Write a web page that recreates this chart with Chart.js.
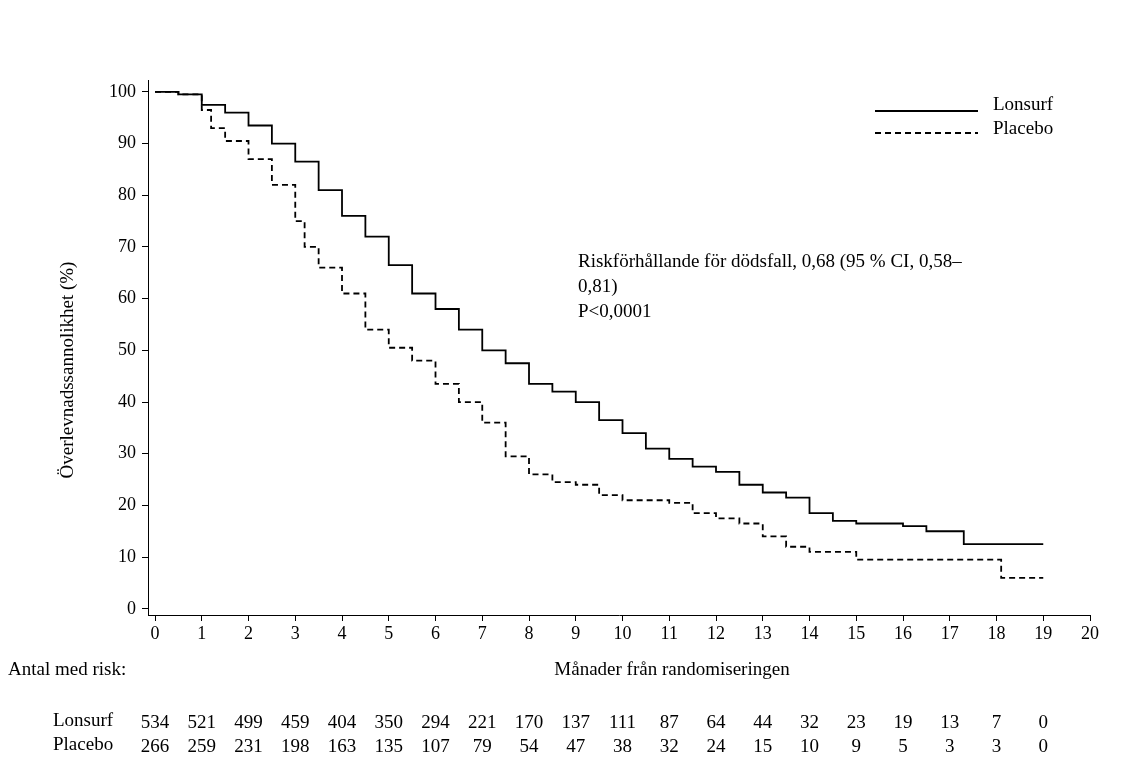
<!DOCTYPE html>
<html>
<head>
<meta charset="utf-8">
<script src="https://cdn.jsdelivr.net/npm/chart.js@4/dist/chart.umd.min.js"></script>
<style>
  body { margin: 0; background: #fff; }
  #wrap { width: 1121px; height: 773px; }
</style>
</head>
<body>
<div id="wrap"><canvas id="km"></canvas></div>
<script>
// Kaplan-Meier data (month, survival %)
const lonsurfMonths = [0, 0.5, 1, 1.5, 2, 2.5, 3, 3.5, 4, 4.5, 5, 5.5, 6, 6.5, 7, 7.5, 8, 8.5, 9, 9.5, 10, 10.5, 11, 11.5, 12, 12.5, 13, 13.5, 14, 14.5, 15, 16, 16.5, 17.3, 19];
const lonsurfValues = [100, 99.5, 97.5, 96, 93.5, 90, 86.5, 81, 76, 72, 66.5, 61, 58, 54, 50, 47.5, 43.5, 42, 40, 36.5, 34, 31, 29, 27.5, 26.5, 24, 22.5, 21.5, 18.5, 17, 16.5, 16, 15, 12.5, 12.5];
const placeboMonths = [0, 0.5, 1, 1.2, 1.5, 2, 2.5, 3, 3.2, 3.5, 4, 4.5, 5, 5.5, 6, 6.5, 7, 7.5, 8, 8.5, 9, 9.5, 10, 11, 11.5, 12, 12.5, 13, 13.5, 14, 15, 18.1, 19];
const placeboValues = [100, 99.5, 96.5, 93, 90.5, 87, 82, 75, 70, 66, 61, 54, 50.5, 48, 43.5, 40, 36, 29.5, 26, 24.5, 24, 22, 21, 20.5, 18.5, 17.5, 16.5, 14, 12, 11, 9.5, 6, 6];

const riskMonths = [0, 1, 2, 3, 4, 5, 6, 7, 8, 9, 10, 11, 12, 13, 14, 15, 16, 17, 18, 19];
const riskLonsurf = [534, 521, 499, 459, 404, 350, 294, 221, 170, 137, 111, 87, 64, 44, 32, 23, 19, 13, 7, 0];
const riskPlacebo = [266, 259, 231, 198, 163, 135, 107, 79, 54, 47, 38, 32, 24, 15, 10, 9, 5, 3, 3, 0];

const FONT = '"Liberation Serif", "Times New Roman", serif';

function toPoints(xs, ys) {
    return xs.map((x, i) => ({ x: x, y: ys[i] }));
}

// Texts, legend and risk table
const extras = {
    id: 'extras',
    afterDraw(chart) {
        const ctx = chart.ctx;
        const xs = chart.scales.x;
        ctx.save();
        ctx.fillStyle = '#000';
        ctx.strokeStyle = '#000';
        ctx.font = '19px ' + FONT;
        ctx.textBaseline = 'middle';

        // legend
        ctx.lineWidth = 1.8;
        ctx.beginPath(); ctx.moveTo(875, 111); ctx.lineTo(978, 111); ctx.stroke();
        ctx.setLineDash([6, 4]);
        ctx.beginPath(); ctx.moveTo(875, 133); ctx.lineTo(978, 133); ctx.stroke();
        ctx.setLineDash([]);
        ctx.textAlign = 'left';
        ctx.fillText('Lonsurf', 993, 105);
        ctx.fillText('Placebo', 993, 129);

        // hazard ratio
        ctx.fillText('Riskförhållande för dödsfall, 0,68 (95 % CI, 0,58–', 578, 262);
        ctx.fillText('0,81)', 578, 287);
        ctx.fillText('P<0,0001', 578, 312);

        // y title
        ctx.save();
        ctx.translate(68, 370);
        ctx.rotate(-Math.PI / 2);
        ctx.textAlign = 'center';
        ctx.fillText('Överlevnadssannolikhet (%)', 0, 0);
        ctx.restore();

        // x title + risk table
        ctx.textAlign = 'center';
        ctx.fillText('Månader från randomiseringen', 672, 670);
        ctx.textAlign = 'left';
        ctx.fillText('Antal med risk:', 8, 670);
        ctx.fillText('Lonsurf', 53, 721);
        ctx.fillText('Placebo', 53, 745);
        ctx.textAlign = 'center';
        riskMonths.forEach((m, i) => {
            const px = xs.getPixelForValue(m);
            ctx.fillText(String(riskLonsurf[i]), px, 723);
            ctx.fillText(String(riskPlacebo[i]), px, 747);
        });
        ctx.restore();
    }
};

new Chart(document.getElementById('km'), {
    type: 'line',
    data: {
        datasets: [{
            label: 'Lonsurf',
            data: toPoints(lonsurfMonths, lonsurfValues),
            borderColor: '#000',
            borderWidth: 1.8,
            pointRadius: 0,
            stepped: 'before',
            fill: false
        }, {
            label: 'Placebo',
            data: toPoints(placeboMonths, placeboValues),
            borderColor: '#000',
            borderWidth: 1.8,
            borderDash: [6, 4],
            pointRadius: 0,
            stepped: 'before',
            fill: false
        }]
    },
    options: {
        responsive: true,
        maintainAspectRatio: false,
        animation: false,
        layout: { padding: { top: 80, right: 31, left: 0, bottom: 0 } },
        plugins: { legend: { display: false }, tooltip: { enabled: false } },
        scales: {
            x: {
                type: 'linear',
                min: -0.15,
                max: 20,
                afterBuildTicks: s => { s.ticks = riskMonths.concat([20]).map(v => ({ value: v })); },
                afterFit: s => { s.height = 158; },
                grid: { drawOnChartArea: false, tickLength: 6, color: '#000' },
                border: { color: '#000', width: 1 },
                ticks: { color: '#000', font: { family: FONT, size: 18 }, maxRotation: 0, padding: 2 }
            },
            y: {
                min: -1.2,
                max: 102.3,
                afterBuildTicks: s => { s.ticks = [0, 10, 20, 30, 40, 50, 60, 70, 80, 90, 100].map(v => ({ value: v })); },
                afterFit: s => { s.width = 148; },
                grid: { drawOnChartArea: false, tickLength: 6, color: '#000' },
                border: { color: '#000', width: 1 },
                ticks: { color: '#000', font: { family: FONT, size: 18 }, padding: 6 }
            }
        }
    },
    plugins: [extras]
});
</script>
</body>
</html>
